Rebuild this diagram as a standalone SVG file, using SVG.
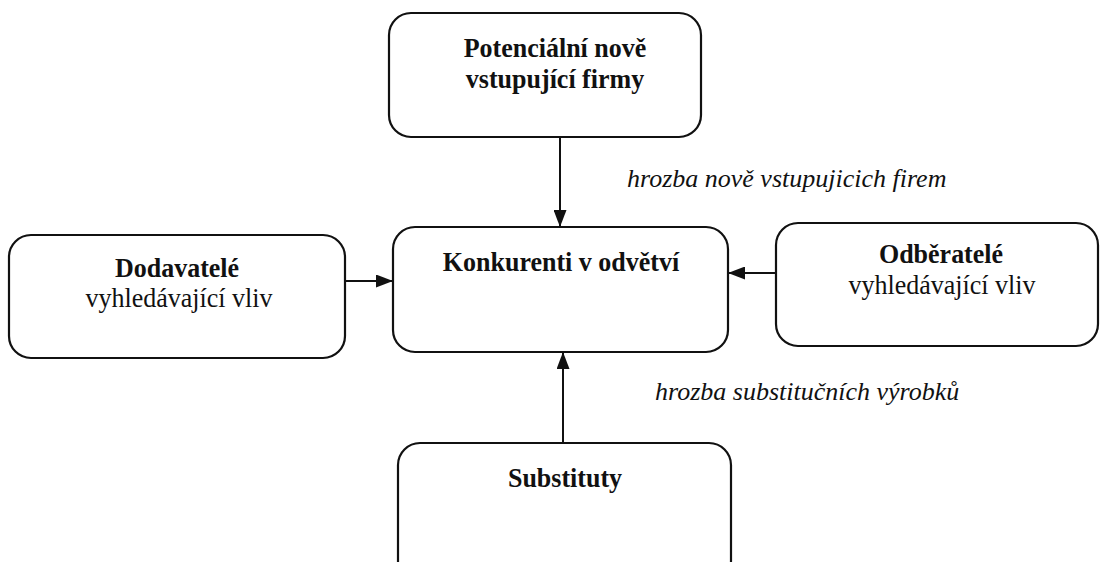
<svg xmlns="http://www.w3.org/2000/svg" width="1101" height="562" viewBox="0 0 1101 562">
<defs>
<marker id="a" viewBox="0 0 10 10" refX="10" refY="5" markerWidth="17" markerHeight="13" orient="auto" markerUnits="userSpaceOnUse" preserveAspectRatio="none">
<path d="M0,0 L10,5 L0,10 z" fill="#111"/>
</marker>
</defs>
<style>
.box{fill:#fff;stroke:#111;stroke-width:2.2}
.b{font-family:"Liberation Serif",serif;font-weight:bold;font-size:26px;fill:#111;text-anchor:middle}
.r{font-family:"Liberation Serif",serif;font-size:26px;fill:#111;text-anchor:middle}
.i{font-family:"Liberation Serif",serif;font-style:italic;font-size:26px;fill:#111}
.c{stroke:#111;stroke-width:2;fill:none;marker-end:url(#a)}
</style>
<rect width="1101" height="562" fill="#fff"/>
<g id="top">
<rect class="box" x="389" y="13" width="312" height="124" rx="22"/>
<text class="b" transform="translate(555,57) scale(1,1.08)">Potenciální nově</text>
<text class="b" transform="translate(555,88) scale(1,1.08)">vstupující firmy</text>
</g>
<g id="left">
<rect class="box" x="9" y="235" width="336" height="123" rx="22"/>
<text class="b" transform="translate(177,277) scale(1,1.08)">Dodavatelé</text>
<text class="r" transform="translate(179,307) scale(1,1.08)">vyhledávající vliv</text>
</g>
<g id="center">
<rect class="box" x="393" y="227" width="335" height="125" rx="22"/>
<text class="b" transform="translate(561,271) scale(1,1.08)">Konkurenti v odvětví</text>
</g>
<g id="right">
<rect class="box" x="776" y="223" width="322" height="123" rx="22"/>
<text class="b" transform="translate(941,263) scale(1,1.08)">Odběratelé</text>
<text class="r" transform="translate(942,294) scale(1,1.08)">vyhledávající vliv</text>
</g>
<g id="bottom">
<rect class="box" x="398" y="443" width="333" height="140" rx="22"/>
<text class="b" transform="translate(565,487) scale(1,1.08)">Substituty</text>
</g>
<g id="connectors">
<line class="c" x1="560" y1="137" x2="560" y2="227"/>
<line class="c" x1="345" y1="281" x2="393" y2="281"/>
<line class="c" x1="776" y1="273" x2="728" y2="273"/>
<line class="c" x1="563" y1="443" x2="563" y2="352"/>
<text class="i" x="627" y="187">hrozba nově vstupujicich firem</text>
<text class="i" x="655" y="400">hrozba substitučních výrobků</text>
</g>
</svg>
